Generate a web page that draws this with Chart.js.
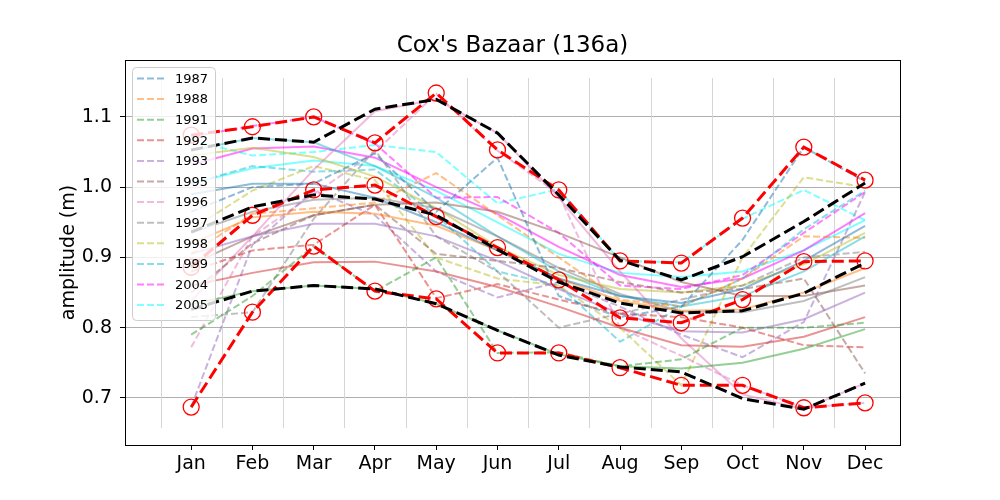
<!DOCTYPE html>
<html>
<head>
<meta charset="utf-8">
<script src="https://cdn.jsdelivr.net/npm/chart.js@4.4.1/dist/chart.umd.min.js"></script>
<style>
  html, body { margin: 0; padding: 0; background: #fff; }
</style>
</head>
<body>
<canvas id="tideChart" width="1000" height="500"></canvas>
<script>
// tick labels
const months = ['Jan', 'Feb', 'Mar', 'Apr', 'May', 'Jun', 'Jul', 'Aug', 'Sep', 'Oct', 'Nov', 'Dec'];
const yTicks = [0.7, 0.8, 0.9, 1.0, 1.1];
const years = ['1987', '1988', '1991', '1992', '1993', '1995', '1996', '1997', '1998', '1999', '2004', '2005'];

// monthly values per year (dashed)
const d1987 = [0.965, 1.000, 1.005, 1.048, 0.965, 1.042, 0.845, 0.815, 0.830, 0.925, 1.057, 1.008];
const d1988 = [0.905, 0.962, 0.970, 0.978, 1.020, 0.960, 0.900, 0.840, 0.830, 0.870, 0.930, 0.928];
const d1991 = [0.790, 0.845, 0.916, 0.852, 0.900, 0.764, 0.765, 0.745, 0.755, 0.800, 0.800, 0.807];
const d1992 = [0.880, 0.910, 0.918, 0.975, 0.842, 0.862, 0.840, 0.820, 0.815, 0.800, 0.775, 0.772];
const d1993 = [0.687, 0.918, 0.995, 0.960, 0.880, 0.843, 0.865, 0.830, 0.790, 0.758, 0.808, 0.993];
const d1995 = [0.850, 0.920, 0.960, 0.975, 0.905, 0.895, 0.885, 0.865, 0.850, 0.855, 0.870, 0.735];
const d1996 = [0.772, 0.930, 0.990, 1.050, 1.133, 1.052, 0.990, 0.800, 0.760, 0.718, 0.686, 0.693];
const d1997 = [0.815, 0.822, 0.955, 1.053, 0.930, 0.880, 0.800, 0.820, 0.840, 0.860, 0.900, 0.908];
const d1998 = [0.940, 0.995, 1.030, 1.010, 0.900, 0.870, 0.860, 0.800, 0.718, 0.900, 1.014, 1.000];
const d1999 = [1.005, 1.030, 1.022, 1.025, 0.960, 0.880, 0.860, 0.780, 0.830, 0.870, 0.940, 0.995];
const d2004 = [1.072, 1.087, 1.100, 1.062, 0.985, 0.986, 0.935, 0.860, 0.855, 0.875, 0.935, 0.993];
const d2005 = [1.067, 1.045, 1.050, 1.060, 1.050, 0.977, 0.997, 0.895, 0.893, 0.955, 0.996, 0.953];

// smoothed values per year (solid)
const s1987 = [0.990, 1.005, 1.005, 0.985, 0.950, 0.910, 0.870, 0.845, 0.835, 0.855, 0.895, 0.945];
const s1988 = [0.920, 0.957, 0.965, 0.962, 0.945, 0.910, 0.870, 0.838, 0.824, 0.826, 0.850, 0.885];
const s1991 = [0.833, 0.852, 0.860, 0.855, 0.834, 0.796, 0.762, 0.745, 0.742, 0.750, 0.770, 0.798];
const s1992 = [0.860, 0.878, 0.893, 0.894, 0.880, 0.858, 0.830, 0.800, 0.775, 0.773, 0.787, 0.815];
const s1993 = [0.905, 0.930, 0.948, 0.948, 0.930, 0.895, 0.855, 0.820, 0.795, 0.793, 0.812, 0.850];
const s1995 = [0.890, 0.930, 0.960, 0.975, 0.978, 0.965, 0.935, 0.900, 0.865, 0.845, 0.845, 0.860];
const s1996 = [0.838, 0.930, 1.025, 1.108, 1.125, 1.077, 0.985, 0.880, 0.785, 0.705, 0.684, 0.721];
const s1997 = [0.935, 0.965, 0.982, 0.985, 0.970, 0.930, 0.885, 0.848, 0.823, 0.822, 0.838, 0.872];
const s1998 = [1.045, 1.056, 1.043, 1.015, 0.970, 0.915, 0.875, 0.855, 0.850, 0.860, 0.890, 0.935];
const s1999 = [1.052, 1.070, 1.064, 1.030, 0.985, 0.930, 0.880, 0.845, 0.830, 0.845, 0.880, 0.930];
const s2004 = [1.032, 1.055, 1.058, 1.042, 1.000, 0.962, 0.915, 0.875, 0.858, 0.870, 0.910, 0.963];
const s2005 = [1.005, 1.027, 1.038, 1.030, 0.995, 0.950, 0.905, 0.878, 0.872, 0.880, 0.910, 0.953];

// envelopes
const redTop = [1.074, 1.086, 1.100, 1.063, 1.134, 1.053, 0.996, 0.895, 0.892, 0.956, 1.057, 1.010];
const redMid = [0.886, 0.960, 0.996, 1.003, 0.958, 0.914, 0.868, 0.814, 0.807, 0.840, 0.894, 0.895];
const redBot = [0.687, 0.822, 0.916, 0.852, 0.841, 0.764, 0.764, 0.743, 0.718, 0.718, 0.686, 0.693];
const blackTop = [1.053, 1.070, 1.064, 1.111, 1.125, 1.077, 0.989, 0.896, 0.868, 0.901, 0.951, 1.006];
const blackMid = [0.936, 0.972, 0.989, 0.983, 0.960, 0.911, 0.865, 0.835, 0.821, 0.824, 0.849, 0.892];
const blackBot = [0.826, 0.852, 0.860, 0.855, 0.834, 0.796, 0.761, 0.744, 0.737, 0.699, 0.684, 0.721];

const rawSeries = [d1987, d1988, d1991, d1992, d1993, d1995, d1996, d1997, d1998, d1999, d2004, d2005];
const smoothSeries = [s1987, s1988, s1991, s1992, s1993, s1995, s1996, s1997, s1998, s1999, s2004, s2005];
const yearColors = ['#1f77b4', '#ff7f0e', '#2ca02c', '#d62728', '#9467bd', '#8c564b',
                    '#e377c2', '#7f7f7f', '#bcbd22', '#17becf', '#ff00ff', '#00ffff'];

const FONT = "'DejaVu Sans', sans-serif";

function fade(hex, a) {
    const n = parseInt(hex.slice(1), 16);
    return 'rgba(' + (n >> 16) + ',' + ((n >> 8) & 255) + ',' + (n & 255) + ',' + a + ')';
}
const toPoints = vals => vals.map((v, i) => ({ x: i, y: v }));

const datasets = [];
years.forEach((yr, k) => {
    datasets.push({
        label: yr, data: toPoints(rawSeries[k]),
        borderColor: fade(yearColors[k], 0.5), borderWidth: 2, borderDash: [7, 3],
        pointRadius: 0, order: 10
    });
    datasets.push({
        label: yr + ' fit', data: toPoints(smoothSeries[k]),
        borderColor: fade(yearColors[k], 0.5), borderWidth: 2,
        pointRadius: 0, order: 10
    });
});
[redTop, redMid, redBot].forEach(vals => {
    datasets.push({
        data: toPoints(vals), borderColor: '#ff0000', borderWidth: 3, borderDash: [12, 5],
        pointRadius: 8, pointBorderColor: '#ff0000', pointBackgroundColor: 'rgba(0,0,0,0)',
        pointBorderWidth: 1.3, order: 2
    });
});
[blackTop, blackMid, blackBot].forEach(vals => {
    datasets.push({
        data: toPoints(vals), borderColor: '#000000', borderWidth: 3, borderDash: [12, 5],
        pointRadius: 0, order: 1
    });
});

// light vertical lines between months
const halfGrid = {
    id: 'halfGrid',
    beforeDatasetsDraw(chart) {
        const { ctx, chartArea: a, scales: { x } } = chart;
        ctx.save();
        ctx.strokeStyle = '#d6d6d6';
        ctx.lineWidth = 1;
        for (let i = 0; i < months.length; i++) {
            const px = Math.round(x.getPixelForValue(i - 0.5)) + 0.5;
            ctx.beginPath();
            ctx.moveTo(px, a.top + 18);
            ctx.lineTo(px, a.bottom - 17);
            ctx.stroke();
        }
        ctx.restore();
    }
};

// frame, legend, titles
const decor = {
    id: 'decor',
    afterDraw(chart) {
        const { ctx, chartArea: a } = chart;
        ctx.save();

        // legend box
        const x0 = a.left + 7, y0 = a.top + 7, w = 83, h = 253;
        ctx.beginPath();
        ctx.roundRect(x0 + 0.5, y0 + 0.5, w, h, 4);
        ctx.fillStyle = 'rgba(255,255,255,0.8)';
        ctx.fill();
        ctx.strokeStyle = '#cccccc';
        ctx.lineWidth = 1;
        ctx.stroke();
        ctx.font = '13px ' + FONT;
        ctx.textBaseline = 'middle';
        ctx.textAlign = 'left';
        years.forEach((yr, k) => {
            const yy = y0 + 11.5 + k * 20.6;
            ctx.beginPath();
            ctx.setLineDash([7, 3]);
            ctx.strokeStyle = fade(yearColors[k], 0.5);
            ctx.lineWidth = 2;
            ctx.moveTo(x0 + 5, yy);
            ctx.lineTo(x0 + 33, yy);
            ctx.stroke();
            ctx.setLineDash([]);
            ctx.fillStyle = '#000';
            ctx.fillText(yr, x0 + 43, yy + 1);
        });

        // axes frame
        ctx.strokeStyle = '#000';
        ctx.lineWidth = 1;
        ctx.strokeRect(a.left + 0.5, a.top + 0.5, a.right - a.left, a.bottom - a.top);

        // title
        ctx.fillStyle = '#000';
        ctx.textAlign = 'center';
        ctx.textBaseline = 'alphabetic';
        ctx.font = '23px ' + FONT;
        ctx.fillText("Cox's Bazaar (136a)", (a.left + a.right) / 2, a.top - 8);

        // y axis label
        ctx.font = '19px ' + FONT;
        ctx.translate(74, (a.top + a.bottom) / 2);
        ctx.rotate(-Math.PI / 2);
        ctx.textBaseline = 'alphabetic';
        ctx.fillText('amplitude (m)', 0, 0);
        ctx.restore();
    }
};

new Chart(document.getElementById('tideChart').getContext('2d'), {
    type: 'line',
    data: { datasets: datasets },
    options: {
        responsive: false,
        devicePixelRatio: 1,
        animation: false,
        layout: { padding: { top: 60, right: 100, left: 0, bottom: 0 } },
        elements: { line: { tension: 0 } },
        plugins: {
            legend: { display: false },
            tooltip: { enabled: false },
            title: { display: false }
        },
        scales: {
            x: {
                type: 'linear', min: -1.08, max: 11.57,
                afterBuildTicks: s => { s.ticks = months.map((m, i) => ({ value: i })); },
                ticks: {
                    callback: v => months[v], autoSkip: false, maxRotation: 0,
                    font: { family: FONT, size: 19 }, color: '#000', padding: 3
                },
                grid: { drawOnChartArea: false, tickColor: '#000', tickLength: 5 },
                border: { display: false },
                afterFit: s => { s.height = 55; }
            },
            y: {
                min: 0.633, max: 1.181,
                afterBuildTicks: s => { s.ticks = yTicks.map(v => ({ value: v })); },
                ticks: {
                    callback: v => v.toFixed(1),
                    font: { family: FONT, size: 19 }, color: '#000', padding: 8
                },
                grid: { color: '#b0b0b0', lineWidth: 1, tickColor: '#000', tickLength: 5 },
                border: { display: false },
                afterFit: s => { s.width = 125; }
            }
        }
    },
    plugins: [halfGrid, decor]
});
</script>
</body>
</html>
